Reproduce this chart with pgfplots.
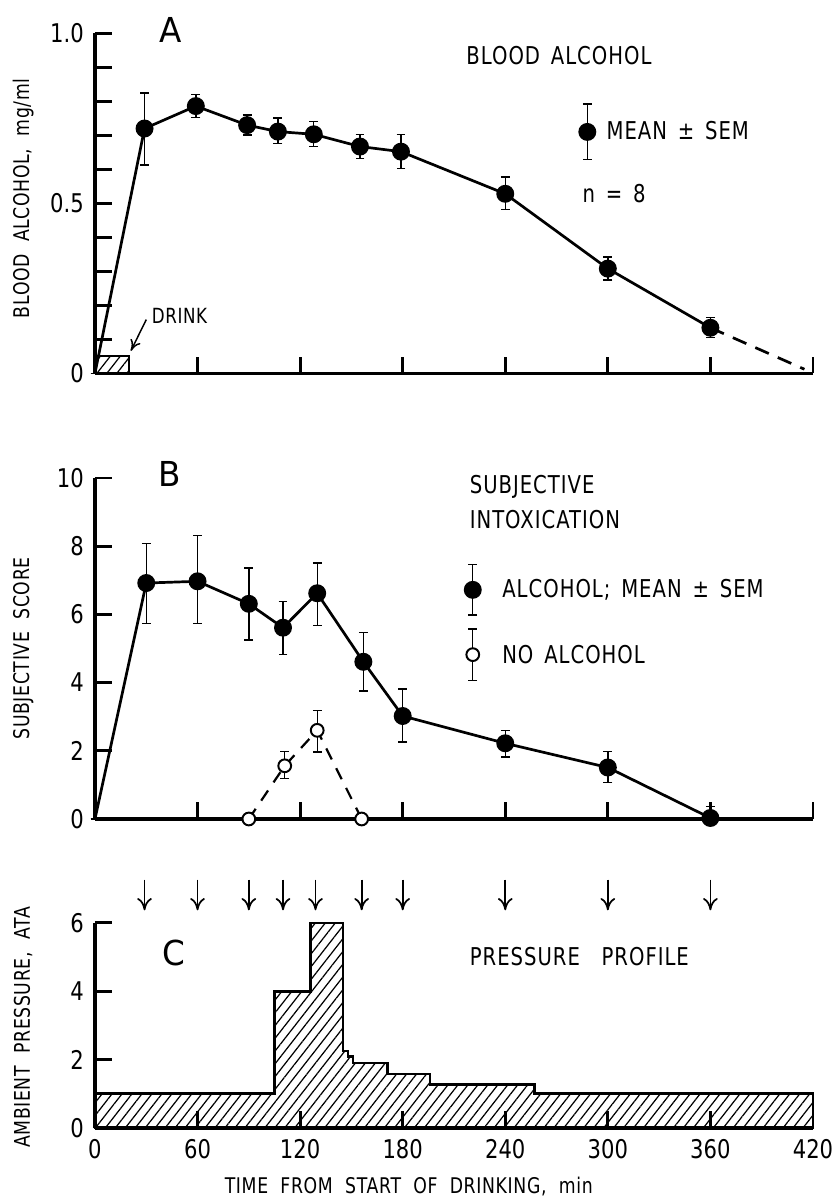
\documentclass[border=0pt]{standalone}
\usepackage{fontspec}
\setmainfont{DejaVu Sans}[FakeStretch=0.82]
\newfontfamily\labfam{DejaVu Sans}[FakeStretch=0.80, LetterSpace=3, WordSpace=2]
\newfontfamily\txtfam{DejaVu Sans}[FakeStretch=0.80, LetterSpace=4, WordSpace=1.5]
\newfontfamily\letfam{DejaVu Sans}[FakeStretch=0.95]
\usepackage{pgfplots}
\pgfplotsset{compat=1.18}
\usepackage{pgfplotstable}
\usetikzlibrary{patterns.meta,arrows.meta}

\newcommand\ylabfont{\labfam\fontsize{8.8}{10}\selectfont}
\newcommand\txt{\txtfam\fontsize{10}{12}\selectfont}
\newcommand\panelfont{\letfam\fontsize{14}{16}\selectfont}

% blood alcohol, mg/ml (first row = start of drinking)
\pgfplotstableread{
t   v     ep    em
0   0     0     0
29  0.720 0.104 0.107
59  0.786 0.035 0.033
89  0.730 0.030 0.029
107 0.711 0.040 0.036
128 0.703 0.037 0.036
155 0.667 0.035 0.035
179 0.652 0.050 0.050
240 0.528 0.049 0.046
300 0.308 0.034 0.034
360 0.134 0.031 0.029
}\tabA

% subjective score, alcohol
\pgfplotstableread{
t   v    ep   em
0   0    0    0
30  6.92 1.15 1.18
60  6.97 1.34 1.24
90  6.31 1.05 1.06
110 5.61 0.77 0.78
130 6.62 0.89 0.95
157 4.61 0.86 0.86
180 3.02 0.79 0.76
240 2.22 0.37 0.40
300 1.51 0.47 0.44
360 0.03 0.33 0.03
}\tabB

% subjective score, no alcohol
\pgfplotstableread{
t   v    ep   em
90  0    0    0
111 1.56 0.42 0.38
130 2.60 0.59 0.64
156 0    0    0
}\tabBn

\tikzset{txtnode/.style={font=\txt, anchor=west, inner sep=0pt}}

\pgfplotsset{
  panel/.style={
    scale only axis, width=10.282cm, anchor=south west,
    xmin=0, xmax=420,
    axis x line*=bottom, axis y line*=left,
    tick align=inside, major tick length=6.8pt,
    axis line style={line width=1.3pt},
    tick style={line width=1.2pt, black},
    clip=false,
    tick label style={font=\fontsize{10.5}{12}\selectfont},
    yticklabel style={xshift=-1pt},
    every axis y label/.style={at={(axis description cs:-0.100,0.5)}, rotate=90, anchor=center, font=\ylabfont},
    /pgf/number format/assume math mode=true,
  },
  dat/.style={black, line width=1.1pt, mark=*, mark size=3.1pt, mark options={solid, fill=black}},
  eb/.style={error bars/.cd, y dir=both, y explicit,
    error bar style={line width=0.55pt, solid},
    error mark options={rotate=90, mark size=1.8pt, line width=0.55pt, solid}},
  hatch/.style={pattern={Lines[angle=52, distance=3.2pt, line width=0.5pt]}, draw=black, line width=1.1pt},
}

\begin{document}
\begin{tikzpicture}
\useasboundingbox (0,0) rectangle (12,-17.170);

% ---------------- A ----------------
\begin{axis}[panel, at={(1.360cm,-5.346cm)}, height=4.869cm,
  ymin=0, ymax=1,
  xtick={60,120,...,420}, xticklabels={},
  ytick={0,0.1,0.2,0.3,0.4,0.5,0.6,0.7,0.8,0.9,1.0},
  yticklabels={0,{},{},{},{},0.5,{},{},{},{},1.0},
  ylabel={BLOOD ALCOHOL, mg/ml},
  every axis y label/.append style={at={(axis description cs:-0.100,0.515)}},
]
\addplot[hatch, line width=0.9pt] coordinates {(0,0.05) (20,0.05)} \closedcycle;
\addplot[dat, mark phase=2, eb] table[x=t, y=v, y error plus=ep, y error minus=em] {\tabA};
\addplot[black, line width=1.1pt, dashed, dash pattern=on 6pt off 4pt] coordinates {(360,0.134) (415,0.012)};
% legend glyph
\addplot[dat, only marks, eb] coordinates {(288,0.71) +- (0,0.082)};
\node[font=\panelfont] at (axis cs:44,1.01) {A};
\node[txtnode] at (axis cs:217,0.935) {BLOOD ALCOHOL};
\node[txtnode] at (axis cs:299,0.713) {MEAN ± SEM};
\node[txtnode] at (axis cs:285,0.53) {n = 8};
\node[font=\labfam\fontsize{8.5}{10}\selectfont, anchor=west, inner sep=0pt] at (axis cs:33,0.169) {DRINK};
\draw[-{To[length=4.5pt,width=4.5pt]}, line width=0.6pt] (axis cs:30,0.158) -- (axis cs:21,0.066);
\end{axis}

% ---------------- B ----------------
\begin{axis}[panel, at={(1.360cm,-11.728cm)}, height=4.883cm,
  ymin=0, ymax=10,
  xtick={60,120,...,420}, xticklabels={},
  ytick={0,2,4,6,8,10},
  ylabel={SUBJECTIVE SCORE},
]
\addplot[black, line width=0.9pt, dashed, dash pattern=on 5pt off 4pt, mark=*, mark size=2.6pt,
  mark options={solid, fill=white, line width=0.8pt}, eb] table[x=t, y=v, y error plus=ep, y error minus=em] {\tabBn};
\addplot[dat, mark phase=2, eb] table[x=t, y=v, y error plus=ep, y error minus=em] {\tabB};
% legend glyphs
\addplot[dat, only marks, eb] coordinates {(221,6.72) +- (0,0.74)};
\addplot[black, only marks, mark=*, mark size=2.6pt, mark options={solid, fill=white, line width=0.8pt}, eb]
  coordinates {(221,4.82) +- (0,0.75)};
\node[font=\panelfont] at (axis cs:44,10.12) {B};
\node[txtnode] at (axis cs:219,9.74) {SUBJECTIVE};
\node[txtnode] at (axis cs:219,8.77) {INTOXICATION};
\node[txtnode] at (axis cs:238,6.72) {ALCOHOL;\ MEAN ± SEM};
\node[txtnode] at (axis cs:238,4.82) {NO ALCOHOL};
\end{axis}

% ---------------- C ----------------
\begin{axis}[panel, at={(1.360cm,-16.153cm)}, height=2.936cm,
  ymin=0, ymax=6,
  xtick={0,60,...,420},
  ytick={0,2,4,6},
  xticklabel style={yshift=-1pt},
  ylabel={AMBIENT PRESSURE, ATA},
  every axis y label/.append style={at={(axis description cs:-0.100,0.49)}},
  xlabel={TIME FROM START OF DRINKING, min},
  every axis x label/.style={at={(axis description cs:0.437,-0.288)}, anchor=center, font=\ylabfont},
]
\addplot[hatch] coordinates {
  (0,1) (105,1) (105,4) (126,4) (126,6) (145,6) (145,2.25) (148,2.25) (148,2.1)
  (151,2.1) (151,1.9) (171,1.9) (171,1.58) (196,1.58) (196,1.28) (257,1.28)
  (257,1) (420,1)} \closedcycle;
% times of tests
\addplot[black, line width=0.7pt, -{To[length=5pt,width=6pt]}, quiver={u value=0, v value=-0.9}] coordinates {
  (29,7.27) (60,7.27) (90,7.27) (110,7.27) (129,7.27) (156,7.27) (180,7.27) (240,7.27) (300,7.27) (360,7.27)};
\node[font=\panelfont] at (axis cs:46,5.12) {C};
\node[txtnode] at (axis cs:219,5.02) {PRESSURE\ \ PROFILE};
\end{axis}
\end{tikzpicture}
\end{document}
